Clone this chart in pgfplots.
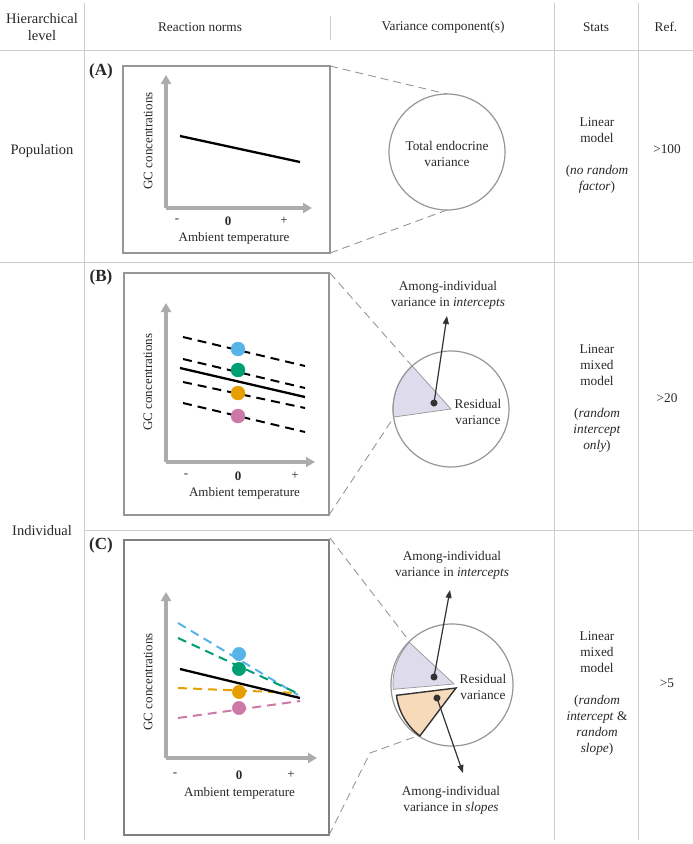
\documentclass[border=0pt]{standalone}
\usepackage{pgfplots}
\pgfplotsset{compat=1.18}
\usepackage{fontspec}
\setmainfont{Liberation Serif}
\usetikzlibrary{arrows.meta}
\definecolor{gridgray}{RGB}{205,205,205}
\definecolor{boxgray}{RGB}{150,150,150}
\definecolor{axgray}{RGB}{172,172,172}
\definecolor{txt}{RGB}{40,40,40}
\definecolor{arr}{RGB}{50,50,50}
\definecolor{cblue}{RGB}{86,180,233}
\definecolor{cgreen}{RGB}{0,158,115}
\definecolor{corange}{RGB}{230,159,0}
\definecolor{cpink}{RGB}{204,121,167}
\definecolor{lav}{RGB}{221,219,236}
\definecolor{peach}{RGB}{246,218,186}
\pgfplotsset{
  norm/.style={
    scale only axis, axis lines=left, xmin=0, ymin=0, clip=false,
    axis line style={axgray, line width=3.2pt, -{Triangle[length=9pt,width=10pt]}},
    ytick=\empty, major tick length=0pt,
    xticklabels={-,\textbf{0},+},
    xticklabel style={anchor=center, font=\fontsize{13}{15}\selectfont, text=txt},
    xlabel={Ambient temperature}, ylabel={GC concentrations},
    label style={font=\fontsize{13}{15}\selectfont, text=txt, anchor=center},
  },
  dsh/.style={line width=2pt, dash pattern=on 9pt off 6pt},
  dot/.style={only marks, mark=*, mark size=7pt},
}
\begin{document}
\begin{tikzpicture}[font=\fontsize{13.3}{16}\selectfont, text=txt]
\begin{scope}[x=1pt, y=-1pt]
\path[use as bounding box] (0,0) rectangle (693,844);
% table lines
\begin{scope}[gridgray, line width=1pt]
\draw (84,3) -- (84,840);
\draw (554,3) -- (554,840);
\draw (638,3) -- (638,840);
\draw (330,16) -- (330,40);
\draw (0,50) -- (693,50);
\draw (0,262) -- (693,262);
\draw (84,530) -- (693,530);
\end{scope}
% headers
\node[align=center, font=\fontsize{14.5}{17}\selectfont] at (42,27) {Hierarchical\\level};
\node at (200,27) {Reaction norms};
\node at (443,27) {Variance component(s)};
\node at (596,27) {Stats};
\node at (666,27) {Ref.};
\node[font=\fontsize{14.5}{17}\selectfont] at (42,151) {Population};
\node[font=\fontsize{14.5}{17}\selectfont] at (42,531) {Individual};
% boxes
\draw[boxgray, line width=1.3pt] (123,66) rectangle (330,253);
\draw[boxgray, line width=1.3pt] (124,273) rectangle (329,515);
\draw[gray, line width=2.8pt] (124,540) rectangle (329,835);
\node[font=\fontsize{17}{19}\selectfont\bfseries] at (101,71) {(A)};
\node[font=\fontsize{17}{19}\selectfont\bfseries] at (101,277) {(B)};
\node[font=\fontsize{17}{19}\selectfont\bfseries] at (101,545) {(C)};

% ---------- Variance A ----------
\begin{scope}[boxgray, line width=0.9pt, dash pattern=on 8pt off 5pt]
\draw (330,66) -- (447,94);
\draw (330,253) -- (447,210);
\end{scope}
\draw[boxgray, line width=1.2pt] (447,152) circle[radius=58];
\node[align=center] at (447,154) {Total endocrine\\variance};

% ---------- Variance B ----------
\begin{scope}[boxgray, line width=0.9pt, dash pattern=on 8pt off 5pt]
\draw (330,273) -- (412,366);
\draw (329,515) -- (394,417);
\end{scope}
\filldraw[fill=lav, draw=boxgray, line width=0.7pt] (451,409) -- ++(-132:58) arc[start angle=-132, end angle=-188, radius=58] -- cycle;
\draw[boxgray, line width=1.2pt] (451,409) circle[radius=58];
\draw[arr, line width=1.2pt, shorten <=-3.5pt, {Circle[length=7pt]}-{Triangle[length=8pt,width=6pt]}] (434,403) -- (447,316);
\node[align=center] at (448,295) {Among-individual\\variance in \textit{intercepts}};
\node[align=center] at (478,412) {Residual\\variance};

% ---------- Variance C ----------
\begin{scope}[boxgray, line width=0.9pt, dash pattern=on 8pt off 5pt]
\draw (330,538) -- (410,642);
\draw (329,835) -- (370,753) -- (420,735);
\end{scope}
\draw[boxgray, line width=1.2pt] (452,685) circle[radius=61];
\filldraw[fill=lav, draw=boxgray, line width=0.7pt] (454,684) -- ++(-137:61) arc[start angle=-137, end angle=-185, radius=61] -- cycle;
\filldraw[fill=peach, draw=arr, line width=1.4pt] (456,688) -- ++(-187:60) arc[start angle=-187, end angle=-233, radius=60] -- cycle;
\draw[arr, line width=1.2pt, shorten <=-3.5pt, {Circle[length=7pt]}-{Triangle[length=8pt,width=6pt]}] (434,677) -- (450,590);
\draw[arr, line width=1.2pt, shorten <=-3.5pt, {Circle[length=7pt]}-{Triangle[length=8pt,width=6pt]}] (437,698) -- (463,773);
\node[align=center] at (452,565) {Among-individual\\variance in \textit{intercepts}};
\node[align=center] at (451,800) {Among-individual\\variance in \textit{slopes}};
\node[align=center] at (483,687) {Residual\\variance};

% ---------- Stats ----------
\node[align=center] at (597,156) {Linear\\model\\[16pt](\textit{no random}\\\textit{factor})};
\node[align=center] at (597,399) {Linear\\mixed\\model\\[16pt](\textit{random}\\\textit{intercept}\\\textit{only})};
\node[align=center] at (597,694) {Linear\\mixed\\model\\[16pt](\textit{random}\\\textit{intercept} \&\\\textit{random}\\\textit{slope})};
\node at (667,149) {>100};
\node at (667,398) {>20};
\node at (667,683) {>5};
\end{scope}

% ---------- Panel A ----------
\begin{axis}[norm, at={(166pt,-208pt)}, anchor=south west, width=146pt, height=133pt,
  xmax=146, ymax=133, xtick={11,62,118}, xticklabel style={yshift=-13pt},
  xlabel style={at={(axis description cs:0.466,-0.226)}},
  ylabel style={at={(axis description cs:-0.123,0.504)}}]
\addplot[black, line width=2.3pt] coordinates {(14,72) (134,46)};
\end{axis}

% ---------- Panel B ----------
\begin{axis}[norm, at={(166pt,-462pt)}, anchor=south west, width=149pt, height=159pt,
  xmax=149, ymax=159, xtick={20,72,129}, xticklabel style={yshift=-14pt},
  xlabel style={at={(axis description cs:0.527,-0.195)}},
  ylabel style={at={(axis description cs:-0.121,0.503)}}]
\addplot[black, dsh] coordinates {(17,125) (139,96)};
\addplot[black, dsh] coordinates {(17,103) (139,74)};
\addplot[black, dsh] coordinates {(17,80) (139,54)};
\addplot[black, dsh] coordinates {(17,59) (139,30)};
\addplot[black, line width=2.3pt] coordinates {(14,94) (139,65)};
\addplot[dot, cblue] coordinates {(72,113)};
\addplot[dot, cgreen] coordinates {(72,92)};
\addplot[dot, corange] coordinates {(72,69)};
\addplot[dot, cpink] coordinates {(72,46)};
\end{axis}

% ---------- Panel C ----------
\begin{axis}[norm, at={(166pt,-758pt)}, anchor=south west, width=151pt, height=166pt,
  xmax=151, ymax=166, xtick={9,73,125}, xticklabel style={yshift=-17pt},
  xlabel style={at={(axis description cs:0.487,-0.211)}},
  ylabel style={at={(axis description cs:-0.119,0.458)}}]
\addplot[cblue, dsh] coordinates {(12,135) (132,63)};
\addplot[cgreen, dsh] coordinates {(12,120) (131,65)};
\addplot[corange, dsh] coordinates {(12,70) (132,65)};
\addplot[cpink, dsh] coordinates {(12,40) (134,57)};
\addplot[black, line width=2.3pt] coordinates {(14,89) (134,60)};
\addplot[dot, mark size=6.7pt, cblue] coordinates {(73,104)};
\addplot[dot, mark size=6.7pt, cgreen] coordinates {(73,89)};
\addplot[dot, mark size=6.7pt, corange] coordinates {(73,66)};
\addplot[dot, mark size=6.7pt, cpink] coordinates {(73,50)};
\end{axis}
\end{tikzpicture}
\end{document}
